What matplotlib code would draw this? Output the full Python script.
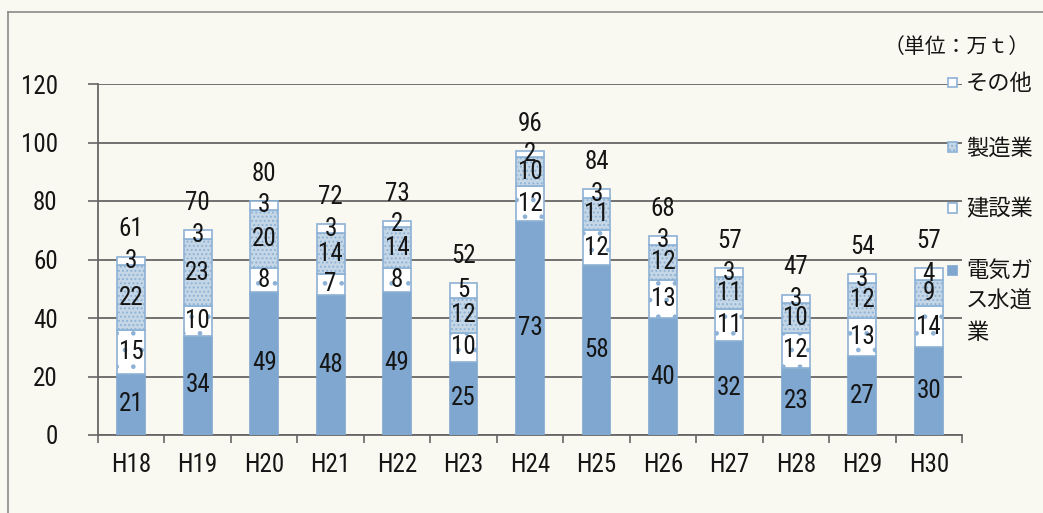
import numpy as np
import matplotlib.pyplot as plt
from matplotlib.patches import Rectangle
from matplotlib.lines import Line2D

plt.rcParams['font.family'] = ['Roboto Condensed', 'Noto Sans CJK JP', 'DejaVu Sans']
plt.rcParams['hatch.linewidth'] = 0.9

# Data (単位: 万t)
years = ["H18", "H19", "H20", "H21", "H22", "H23", "H24", "H25", "H26", "H27", "H28", "H29", "H30"]
denki = [21, 34, 49, 48, 49, 25, 73, 58, 40, 32, 23, 27, 30]
kensetsu = [15, 10, 8, 7, 8, 10, 12, 12, 13, 11, 12, 13, 14]
seizo = [22, 23, 20, 14, 14, 12, 10, 11, 12, 11, 10, 12, 9]
sonota = [3, 3, 3, 3, 2, 5, 2, 3, 3, 3, 3, 3, 4]
totals = [61, 70, 80, 72, 73, 52, 96, 84, 68, 57, 47, 54, 57]

bg = "#faf9f1"
blue = "#7fa7cf"
edge = "#8db2d6"
num_font = ['Roboto Condensed', 'DejaVu Sans']
jp_font = ['Noto Sans CJK JP', 'DejaVu Sans']
fs = 18

fig = plt.figure(figsize=(10.43, 5.13), dpi=100, facecolor=bg)
ax = fig.add_axes([98 / 1043, 1 - 435 / 513, (962 - 98) / 1043, (435 - 84) / 513])
ax.set_facecolor("none")

x = np.arange(len(years))
w = 0.42

series = [
    (denki, dict(color=blue, edgecolor=blue)),
    (kensetsu, dict(color="white", edgecolor=edge, hatch=".")),
    (seizo, dict(color="#c5d7e6", edgecolor=edge, hatch="....")),
    (sonota, dict(color="white", edgecolor=edge)),
]

bottom = np.zeros(len(years))
for vals, style in series:
    vals = np.array(vals, dtype=float)
    ax.bar(x, vals, w, bottom=bottom, linewidth=1.2, zorder=3, **style)
    for xi, b, v in zip(x, bottom, vals):
        ax.text(xi, b + v / 2, f"{int(v)}", ha="center", va="center",
                fontsize=fs, family=num_font, color="#151515", zorder=4)
    bottom += vals

for xi, top, t in zip(x, bottom, totals):
    ax.annotate(f"{t}", (xi, top), xytext=(0, 11), textcoords="offset points",
                ha="center", va="bottom", fontsize=fs, family=num_font, color="#151515")

ax.set_xlim(-0.5, len(years) - 0.5)
ax.set_ylim(0, 120)
ax.set_yticks(range(0, 121, 20))
ax.yaxis.grid(True, color="#666666", linewidth=1.3, zorder=0)
ax.set_axisbelow(True)

ax.set_xticks(x)
ax.set_xticklabels(years)
ax.set_xticks(np.arange(-0.5, len(years), 1), minor=True)
ax.tick_params(axis="x", which="major", length=0, pad=13)
ax.tick_params(axis="x", which="minor", length=6, color="#666666", width=1.2)
ax.tick_params(axis="y", length=7, color="#666666", width=1.2, pad=22)
for lab in ax.get_xticklabels() + ax.get_yticklabels():
    lab.set_fontsize(fs)
    lab.set_family(num_font)
    lab.set_color("#151515")

for s in ["top", "right"]:
    ax.spines[s].set_visible(False)
for s in ["left", "bottom"]:
    ax.spines[s].set_color("#666666")
    ax.spines[s].set_linewidth(1.3)

# Legend (manual, right side)
legend_items = [
    ("その他", 82, dict(facecolor="white", edgecolor=edge), 83),
    ("製造業", 147, dict(facecolor="#c5d7e6", edgecolor=edge, hatch="...."), 148),
    ("建設業", 208, dict(facecolor="white", edgecolor=edge, hatch="."), 208),
    ("電気ガ\nス水道\n業", 270, dict(facecolor=blue, edgecolor=blue), 270),
]
for label, my, style, ty in legend_items:
    fig.patches.append(Rectangle((948 / 1043, 1 - (my + 4.5) / 513), 9 / 1043, 9 / 513,
                                 transform=fig.transFigure, linewidth=1.2, zorder=5, **style))
    fig.text(966 / 1043, 1 - (ty - 11) / 513, label, ha="left", va="top",
             fontsize=16, family=jp_font, color="#151515", linespacing=1.45)

fig.text(1030 / 1043, 1 - 47 / 513, "（単位：万ｔ）", ha="right", va="center",
         fontsize=15, family=jp_font, color="#151515")

# Frame lines
fig.add_artist(Line2D([8 / 1043, 1], [1 - 12 / 513, 1 - 12 / 513], transform=fig.transFigure,
                      color="#8a8a8a", linewidth=1.2))
fig.add_artist(Line2D([8 / 1043, 8 / 1043], [0, 1 - 12 / 513], transform=fig.transFigure,
                      color="#8a8a8a", linewidth=1.2))

fig.savefig("out.png", dpi=100, facecolor=bg)
